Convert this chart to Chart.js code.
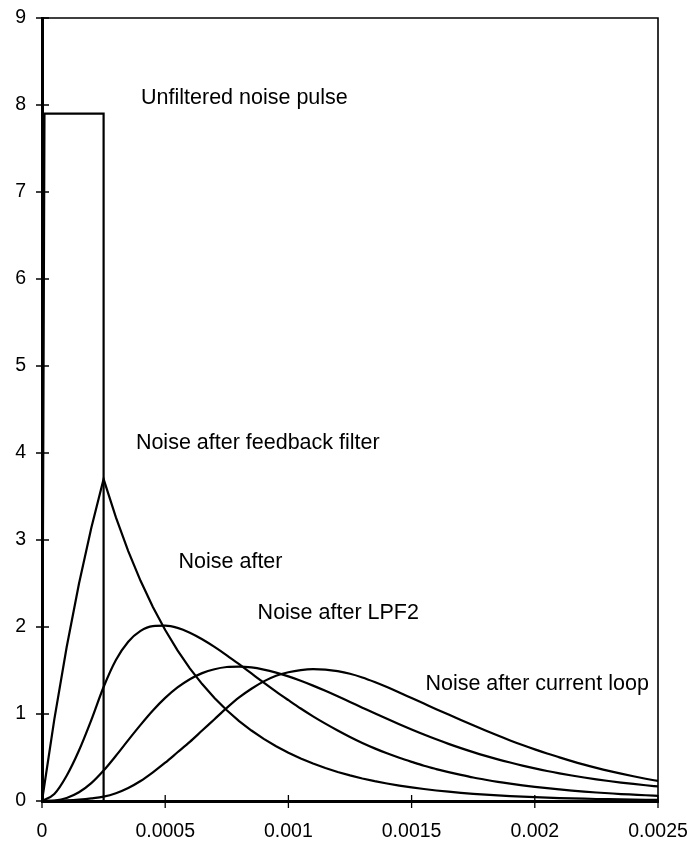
<!DOCTYPE html>
<html><head><meta charset="utf-8">
<script src="https://cdn.jsdelivr.net/npm/chart.js@4/dist/chart.umd.min.js"></script>
<style>html,body{margin:0;padding:0;background:#fff}#wrap{width:692px;height:842px}</style>
</head><body><div id="wrap"><canvas id="c" width="692" height="842"></canvas></div>
<script>
// time axis (seconds)
const times = [0,0.00005,0.0001,0.00015,0.0002,0.00025,0.0003,0.00035,0.0004,0.00045,0.0005,0.00055,0.0006,0.00065,0.0007,0.00075,0.0008,0.00085,0.0009,0.00095,0.001,0.00105,0.0011,0.00115,0.0012,0.00125,0.0013,0.00135,0.0014,0.00145,0.0015,0.00155,0.0016,0.00165,0.0017,0.00175,0.0018,0.00185,0.0019,0.00195,0.002,0.00205,0.0021,0.00215,0.0022,0.00225,0.0023,0.00235,0.0024,0.00245,0.0025];
// unfiltered pulse outline
const pulseX = [0,0.00001,0.00025,0.00025];
const pulseY = [0,7.9,7.9,0];
// noise after feedback filter
const feedback = [0,0.939,1.767,2.497,3.139,3.70,3.26,2.873,2.531,2.230,1.965,1.731,1.525,1.344,1.184,1.043,0.919,0.810,0.714,0.629,0.554,0.488,0.430,0.379,0.334,0.294,0.259,0.228,0.201,0.177,0.156,0.138,0.121,0.107,0.094,0.083,0.073,0.064,0.057,0.050,0.044,0.039,0.034,0.030,0.027,0.023,0.021,0.018,0.016,0.014,0.012];
// noise after (second stage)
const after1 = [0,0.08,0.29,0.58,0.93,1.31,1.62,1.83,1.955,2.01,2.015,1.99,1.935,1.86,1.772,1.675,1.572,1.466,1.36,1.257,1.159,1.063,0.973,0.889,0.81,0.736,0.667,0.605,0.548,0.497,0.45,0.405,0.367,0.332,0.3,0.27,0.244,0.22,0.199,0.18,0.163,0.147,0.133,0.12,0.108,0.098,0.089,0.08,0.073,0.066,0.06];
// noise after LPF2
const lpf2 = [0,0.006,0.035,0.10,0.205,0.35,0.52,0.70,0.875,1.04,1.185,1.305,1.40,1.47,1.515,1.54,1.545,1.535,1.51,1.475,1.432,1.382,1.326,1.266,1.203,1.138,1.073,1.008,0.944,0.882,0.822,0.764,0.709,0.657,0.608,0.562,0.519,0.479,0.442,0.407,0.375,0.345,0.318,0.293,0.27,0.249,0.23,0.212,0.196,0.181,0.167];
// noise after current loop
const currentLoop = [0,0.002,0.007,0.016,0.03,0.05,0.09,0.15,0.23,0.33,0.44,0.56,0.68,0.81,0.94,1.07,1.19,1.29,1.375,1.44,1.48,1.505,1.515,1.51,1.492,1.462,1.42,1.368,1.31,1.248,1.184,1.12,1.056,0.993,0.931,0.87,0.81,0.752,0.696,0.643,0.593,0.546,0.502,0.458,0.418,0.381,0.346,0.314,0.284,0.256,0.23];

const xTickLabels = ["0","0.0005","0.001","0.0015","0.002","0.0025"];
const yTickLabels = ["0","1","2","3","4","5","6","7","8","9"];

const labelTexts = ["Unfiltered noise pulse","Noise after feedback filter","Noise after","Noise after LPF2","Noise after current loop"];
const labelX = [0.000402,0.000381,0.000554,0.000875,0.001556];
const labelY = [8.08,4.115,2.747,2.155,1.341];

const FONT = '"Liberation Sans", Arial, sans-serif';

function series(xs, ys){ return xs.map((x,i)=>({x:x,y:ys[i]})); }
function ds(data, smooth){ return {data:data, showLine:true, borderColor:'#000', borderWidth:2.2, pointRadius:0, fill:false,
  tension: smooth ? 0.4 : 0, cubicInterpolationMode: smooth ? 'monotone' : 'default'}; }

const extras = {
  id:'extras',
  afterDatasetsDraw(chart){
    const ctx = chart.ctx, a = chart.chartArea;
    const xs = chart.scales.x, ys = chart.scales.y;
    ctx.save();
    ctx.strokeStyle = '#000';
    ctx.lineWidth = 1.6;
    ctx.beginPath();
    ctx.moveTo(a.left, a.top); ctx.lineTo(a.right, a.top); ctx.lineTo(a.right, a.bottom);
    ctx.stroke();
    ctx.lineWidth = 1.3;
    ctx.beginPath();
    xs.ticks.forEach(t=>{ const p = xs.getPixelForValue(t.value); ctx.moveTo(p, a.bottom-6); ctx.lineTo(p, a.bottom+7); });
    ys.ticks.forEach(t=>{ const p = ys.getPixelForValue(t.value); ctx.moveTo(a.left-6, p); ctx.lineTo(a.left+7, p); });
    ctx.stroke();
    ctx.fillStyle = '#000';
    ctx.font = '21.5px ' + FONT;
    ctx.textBaseline = 'middle';
    ctx.textAlign = 'left';
    labelTexts.forEach((s,i)=>{ ctx.fillText(s, xs.getPixelForValue(labelX[i]), ys.getPixelForValue(labelY[i])); });
    ctx.restore();
  }
};

new Chart(document.getElementById('c'), {
  type:'scatter',
  data:{datasets:[
    ds(series(pulseX, pulseY), false),
    ds(series(times, feedback), false),
    ds(series(times, after1), true),
    ds(series(times, lpf2), true),
    ds(series(times, currentLoop), true)
  ]},
  options:{
    responsive:false, animation:false, devicePixelRatio:1,
    layout:{padding:{left:0, top:18, right:34, bottom:0}},
    plugins:{legend:{display:false}, tooltip:{enabled:false}},
    scales:{
      x:{type:'linear', min:0, max:0.0025,
        afterFit(s){ s.height = 41; s.paddingLeft = 0; s.paddingRight = 0; },
        afterBuildTicks(s){ s.ticks = xTickLabels.map((l,i)=>({value:i*0.0005})); },
        grid:{display:false, drawTicks:false},
        border:{display:true, color:'#000', width:3},
        ticks:{padding:19, color:'#000', font:{family:FONT, size:19.5}, maxRotation:0, autoSkip:false,
          callback:(v,i)=>xTickLabels[i]}
      },
      y:{type:'linear', min:0, max:9,
        afterFit(s){ s.width = 42; s.paddingTop = 0; s.paddingBottom = 0; },
        afterBuildTicks(s){ s.ticks = yTickLabels.map((l,i)=>({value:i})); },
        grid:{display:false, drawTicks:false},
        border:{display:true, color:'#000', width:3},
        ticks:{padding:16, color:'#000', font:{family:FONT, size:19.5}, autoSkip:false,
          callback:(v,i)=>yTickLabels[i]}
      }
    }
  },
  plugins:[extras]
});
</script>
</body></html>
